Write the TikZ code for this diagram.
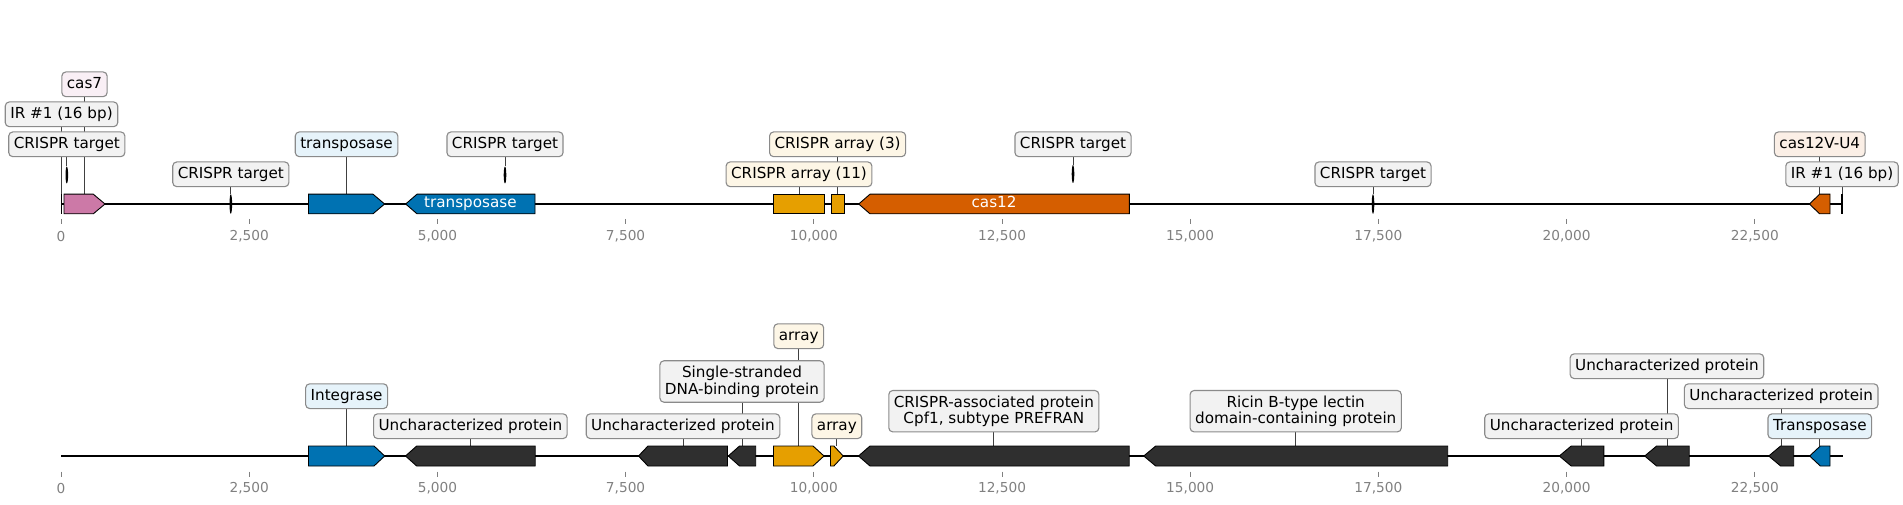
\documentclass[tikz,border=0pt]{standalone}
\usepackage{fontspec}
\setmainfont{DejaVu Sans}
\usetikzlibrary{backgrounds}
\definecolor{casseven}{HTML}{CC79A7}
\definecolor{tnpblue}{HTML}{0072B2}
\definecolor{arrayorange}{HTML}{E69F00}
\definecolor{casred}{HTML}{D55E00}
\definecolor{genegray}{HTML}{2F2F2F}
\definecolor{sevenlight}{HTML}{F9EFF5}
\definecolor{tnplight}{HTML}{E6F3FA}
\definecolor{arraylight}{HTML}{FDF6E6}
\definecolor{caslight}{HTML}{FBEFE6}
\definecolor{graylight}{HTML}{F2F2F2}
\definecolor{boxedge}{HTML}{8A8A8A}
\definecolor{ticktext}{HTML}{808080}

% gene shapes: name, style, start, end, track y, head length
\newcommand{\genefwd}[6]{%
  \draw[#2] (#3,#5-\geneh) -- (#4-#6,#5-\geneh) -- (#4,#5)
    -- (#4-#6,#5+\geneh) -- (#3,#5+\geneh) -- cycle;
  \coordinate (#1) at ({(#3+#4)/2},#5-\geneh);}
\newcommand{\generev}[6]{%
  \draw[#2] (#3,#5) -- (#3+#6,#5-\geneh) -- (#4,#5-\geneh)
    -- (#4,#5+\geneh) -- (#3+#6,#5+\geneh) -- cycle;
  \coordinate (#1) at ({(#3+#4)/2},#5-\geneh);}
\newcommand{\genebox}[5]{%
  \draw[#2] (#3,#5-\geneh) rectangle (#4,#5+\geneh);
  \coordinate (#1) at ({(#3+#4)/2},#5-\geneh);}
% CRISPR target mark: name, x, y, half height
\newcommand{\crtarget}[4]{%
  \fill (#2,#3) ellipse [x radius=1.3, y radius=#4];
  \coordinate (#1) at (#2,#3-#4);}

\begin{document}
\begin{tikzpicture}[x=1pt, y=-1pt,
  backbone/.style={line width=2pt, black},
  gene/.style={draw=black, line width=0.9pt},
  irbar/.style={line width=1.4pt, black},
  leader/.style={draw=black!75, line width=0.8pt},
  lblbase/.style={draw=boxedge, line width=1.1pt, rounded corners=4pt,
    inner xsep=5pt, font=\fontsize{15.2}{16.7}\selectfont},
  lbl/.style={lblbase, inner ysep=5pt, text height=11.2pt, text depth=3.5pt},
  lbltwo/.style={lblbase, inner ysep=5pt, align=center},
  intext/.style={text=white, font=\fontsize{15.2}{16.7}\selectfont,
    text height=11.2pt, text depth=3.5pt},
  tickmark/.style={draw=ticktext, line width=0.8pt},
  ticklbl/.style={text=ticktext, font=\fontsize{13.7}{15}\selectfont,
    inner sep=0pt}
]
\useasboundingbox (0,0) rectangle (1903,505);

% Top track
\def\geneh{9.8}
\coordinate (topstart) at (61,204);
\coordinate (topend) at (1842,204);
\draw[backbone] (topstart) -- (topend);
\draw[irbar] (61.5,194.2) -- (61.5,213.8);
\coordinate (irL) at (61.5,194.2);
\genefwd{cas7}{gene, fill=casseven}{64}{105}{204}{11.7}
\crtarget{tA}{66.8}{175}{8.5}
\crtarget{tB}{230.8}{204}{9.8}
\genefwd{tnpA}{gene, fill=tnpblue}{308.5}{384.6}{204}{11.6}
\generev{tnpR}{gene, fill=tnpblue}{405.7}{535}{204}{11.3}
\crtarget{tC}{505}{175}{8.5}
\genebox{arrA}{gene, fill=arrayorange}{773.3}{824.7}{204}
\genebox{arrB}{gene, fill=arrayorange}{831}{844.2}{204}
\generev{cas}{gene, fill=casred}{858.7}{1129.4}{204}{11.3}
\crtarget{tD}{1073}{174}{9}
\crtarget{tE}{1373}{204}{9.8}
\generev{casv}{gene, fill=casred}{1809.5}{1830}{204}{10}
\draw[irbar] (1842,194.2) -- (1842,213.8);
\coordinate (irR) at (1842,194.2);
\node[intext] (tnpname) at (tnpR |- 0,204) {transposase};
\node[intext] (casname) at (cas |- 0,204) {cas12};

% Top labels
\node[lbl, fill=graylight] (ltA) at (tA |- 0,144.3) {CRISPR target};
\node[lbl, fill=graylight] (lirL) at (irL |- 0,114.3) {IR \#1 (16 bp)};
\node[lbl, fill=sevenlight] (lcas7) at (cas7 |- 0,84.3) {cas7};
\node[lbl, fill=graylight] (ltB) at (tB |- 0,174.3) {CRISPR target};
\node[lbl, fill=tnplight] (ltnp) at (tnpA |- 0,144.3) {transposase};
\node[lbl, fill=graylight] (ltC) at (tC |- 0,144.3) {CRISPR target};
\node[lbl, fill=arraylight] (larrA) at (arrA |- 0,174.3) {CRISPR array (11)};
\node[lbl, fill=arraylight] (larrB) at (arrB |- 0,144.3) {CRISPR array (3)};
\node[lbl, fill=graylight] (ltD) at (tD |- 0,144.3) {CRISPR target};
\node[lbl, fill=graylight] (ltE) at (tE |- 0,174.3) {CRISPR target};
\node[lbl, fill=caslight] (lcasv) at (casv |- 0,144.3) {cas12V-U4};
\node[lbl, fill=graylight] (lirR) at (irR |- 0,174.3) {IR \#1 (16 bp)};

% Bottom track
\def\geneh{10}
\coordinate (botstart) at (61.4,456);
\coordinate (botend) at (1843,456);
\draw[backbone] (botstart) -- (botend);
\genefwd{int}{gene, fill=tnpblue}{308.5}{384.7}{456}{10.7}
\generev{uA}{gene, fill=genegray}{405.5}{535.2}{456}{11.2}
\generev{uB}{gene, fill=genegray}{638.5}{727.5}{456}{9.5}
\generev{ssb}{gene, fill=genegray}{728.3}{755.7}{456}{11.2}
\genefwd{aA}{gene, fill=arrayorange}{773.5}{824}{456}{11}
\genefwd{aB}{gene, fill=arrayorange}{830.5}{843.2}{456}{9.3}
\generev{cpf}{gene, fill=genegray}{858.5}{1129.2}{456}{11.5}
\generev{ric}{gene, fill=genegray}{1143.7}{1447.7}{456}{12}
\generev{uC}{gene, fill=genegray}{1559.3}{1603.8}{456}{11.9}
\generev{uD}{gene, fill=genegray}{1644.7}{1689.2}{456}{11.9}
\generev{uE}{gene, fill=genegray}{1768.7}{1793.7}{456}{11.9}
\generev{tnpB}{gene, fill=tnpblue}{1809.6}{1830}{456}{10.7}

% Bottom labels
\node[lbl, fill=tnplight] (lint) at (int |- 0,396.2) {Integrase~};
\node[lbl, fill=graylight] (luA) at (uA |- 0,426.2) {Uncharacterized protein~};
\node[lbl, fill=graylight] (luB) at (uB |- 0,426.2) {Uncharacterized protein~};
\node[lbltwo, fill=graylight] (lssb) at (ssb |- 0,381.5)
  {Single-stranded\\DNA-binding protein};
\node[lbl, fill=arraylight] (laA) at (aA |- 0,336.2) {array};
\node[lbl, fill=arraylight] (laB) at (aB |- 0,426.2) {array};
\node[lbltwo, fill=graylight] (lcpf) at (cpf |- 0,411.2)
  {CRISPR-associated protein\\Cpf1, subtype PREFRAN};
\node[lbltwo, fill=graylight] (lric) at (ric |- 0,411.2)
  {Ricin B-type lectin\\domain-containing protein};
\node[lbl, fill=graylight] (luC) at (uC |- 0,426.2) {Uncharacterized protein~};
\node[lbl, fill=graylight] (luD) at (uD |- 0,366.2) {Uncharacterized protein~};
\node[lbl, fill=graylight] (luE) at (uE |- 0,396.2) {Uncharacterized protein~};
\node[lbl, fill=tnplight] (ltnpB) at (tnpB |- 0,426.2) {Transposase~};

% Leaders
\begin{scope}[on background layer]
\draw[leader] (ltA) -- (tA);
\draw[leader] (lirL) -- (irL);
\draw[leader] (lcas7) -- (cas7);
\draw[leader] (ltB) -- (tB);
\draw[leader] (ltnp) -- (tnpA);
\draw[leader] (ltC) -- (tC);
\draw[leader] (larrA) -- (arrA);
\draw[leader] (larrB) -- (arrB);
\draw[leader] (ltD) -- (tD);
\draw[leader] (ltE) -- (tE);
\draw[leader] (lcasv) -- (casv);
\draw[leader] (lirR) -- (irR);
\draw[leader] (lint) -- (int);
\draw[leader] (luA) -- (uA);
\draw[leader] (luB) -- (uB);
\draw[leader] (lssb) -- (ssb);
\draw[leader] (laA) -- (aA);
\draw[leader] (laB) -- (aB);
\draw[leader] (lcpf) -- (cpf);
\draw[leader] (lric) -- (ric);
\draw[leader] (luC) -- (uC);
\draw[leader] (luD) -- (uD);
\draw[leader] (luE) -- (uE);
\draw[leader] (ltnpB) -- (tnpB);
\end{scope}

% Axes (positions in kbp)
\foreach \k/\t in {0/0,2.5/{2,500},5/{5,000},7.5/{7,500},
    10/{10,000},12.5/{12,500},15/{15,000},17.5/{17,500},
    20/{20,000},22.5/{22,500}}{
  \draw[tickmark] ({61+\k*75.28},219) -- ++(0,5);
  \node[ticklbl] (tt\k) at ({61+\k*75.28},236.7) {\t};
  \draw[tickmark] ({61+\k*75.28},471.7) -- ++(0,5);
  \node[ticklbl] (bt\k) at ({61+\k*75.28},488.3) {\t};
}
\end{tikzpicture}
\end{document}
